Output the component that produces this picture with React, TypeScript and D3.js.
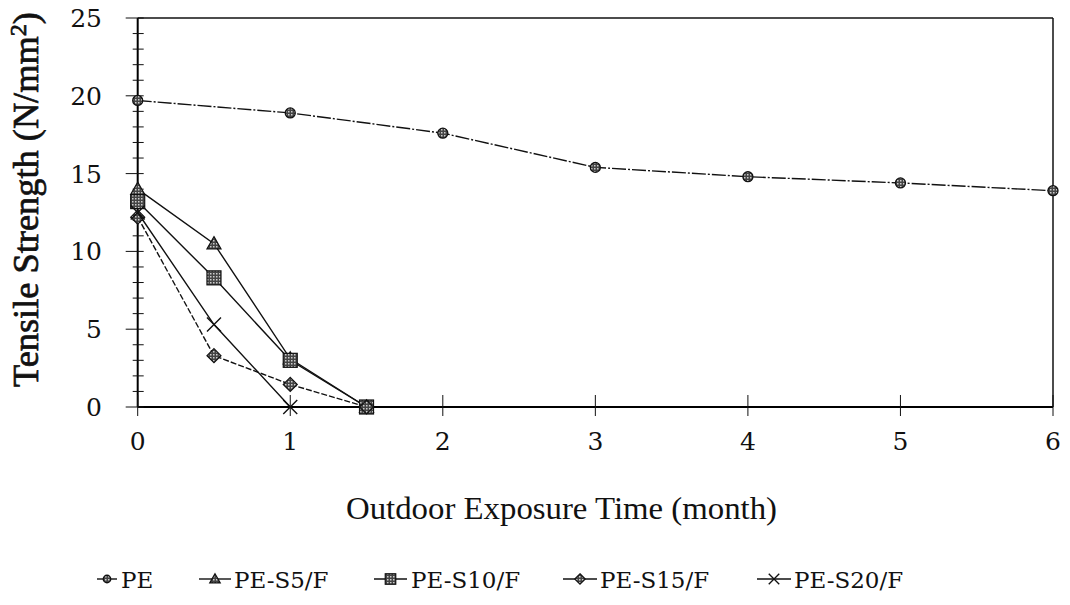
import React from "react";
import * as d3 from "d3";

const months = [0, 1, 2, 3, 4, 5, 6];
const peValues = [19.7, 18.9, 17.6, 15.4, 14.8, 14.4, 13.9];
const shortMonths = [0, 0.5, 1, 1.5];
const s5Values = [14.0, 10.5, 3.1, 0];
const s10Values = [13.2, 8.3, 3.0, 0];
const s15Values = [12.2, 3.3, 1.45, 0];
const s20Months = [0, 0.5, 1];
const s20Values = [12.5, 5.3, 0];
const xTicks = [0, 1, 2, 3, 4, 5, 6];
const yTicks = [0, 5, 10, 15, 20, 25];
const yMinorTicks = d3.range(0, 26, 1);

type Series = { name: string; xs: number[]; ys: number[]; marker: string; dash?: string };
const series: Series[] = [
  { name: "PE", xs: months, ys: peValues, marker: "circle", dash: "14,2,2,2" },
  { name: "PE-S5/F", xs: shortMonths, ys: s5Values, marker: "triangle" },
  { name: "PE-S10/F", xs: shortMonths, ys: s10Values, marker: "square" },
  { name: "PE-S15/F", xs: shortMonths, ys: s15Values, marker: "diamond", dash: "6,2" },
  { name: "PE-S20/F", xs: s20Months, ys: s20Values, marker: "cross" },
];

const W = 1070, H = 605;
const x0 = 137.7, x1 = 1053, yTop = 18, yBot = 407;
const font = "'DejaVu Serif', 'Liberation Serif', serif";
const titleFont = "'Liberation Serif', 'DejaVu Serif', serif";

function Marker({ type, cx, cy, k = 1 }: { type: string; cx: number; cy: number; k?: number }) {
  const fill = "url(#hatch)";
  if (type === "circle") return <circle cx={cx} cy={cy} r={5 * k} fill={fill} stroke="#111" strokeWidth={1.3} />;
  if (type === "triangle") {
    const s = 7 * k;
    return <path d={`M${cx},${cy - s} L${cx + s},${cy + s * 0.75} L${cx - s},${cy + s * 0.75} Z`} fill={fill} stroke="#111" strokeWidth={1.2} />;
  }
  if (type === "square") {
    const s = 7 * k;
    return <rect x={cx - s} y={cy - s} width={2 * s} height={2 * s} fill={fill} stroke="#111" strokeWidth={1.2} />;
  }
  if (type === "diamond") {
    const s = 7 * k;
    return <path d={`M${cx},${cy - s} L${cx + s},${cy} L${cx},${cy + s} L${cx - s},${cy} Z`} fill={fill} stroke="#111" strokeWidth={1.2} />;
  }
  const s = 7 * k;
  return <path d={`M${cx - s},${cy - s} L${cx + s},${cy + s} M${cx - s},${cy + s} L${cx + s},${cy - s}`} stroke="#111" strokeWidth={1.4} fill="none" />;
}

export default function App() {
  const x = d3.scaleLinear().domain([0, 6]).range([x0, x1]);
  const y = d3.scaleLinear().domain([0, 25]).range([yBot, yTop]);
  const line = d3.line<[number, number]>().x((d) => x(d[0])).y((d) => y(d[1]));

  const legendItems = [
    { lx: 97, tx: 121, len: 20 },
    { lx: 199, tx: 234, len: 32 },
    { lx: 374, tx: 411, len: 33 },
    { lx: 563, tx: 600, len: 34 },
    { lx: 757, tx: 794, len: 34 },
  ];
  const legendY = 579;

  return (
    <svg width={W} height={H} style={{ position: "absolute", left: 0, top: 0, background: "#fff" }}>
      <defs>
        <pattern id="hatch" width={3} height={3} patternUnits="userSpaceOnUse">
          <rect width={3} height={3} fill="#444" />
          <rect width={1.5} height={1.5} fill="#ccc" />
        </pattern>
      </defs>
      <rect width={W} height={H} fill="#fff" />
      {/* frame */}
      <line x1={x0} y1={yTop} x2={x1} y2={yTop} stroke="#111" strokeWidth={1.5} />
      <line x1={x1} y1={yTop} x2={x1} y2={yBot} stroke="#111" strokeWidth={1.5} />
      <line x1={x0} y1={yTop} x2={x0} y2={yBot} stroke="#000" strokeWidth={2} />
      <line x1={x0} y1={yBot} x2={x1} y2={yBot} stroke="#000" strokeWidth={2} />
      {/* y ticks */}
      {yMinorTicks.map((t) => (
        <line key={"ym" + t} x1={t % 5 === 0 ? x0 - 12 : x0 - 5} x2={x0 + 6} y1={y(t)} y2={y(t)} stroke="#111" strokeWidth={1} />
      ))}
      {yTicks.map((t) => (
        <text key={"yl" + t} x={102} y={y(t)} dy="0.36em" textAnchor="end" fontFamily={font} fontSize={25} fill="#111">
          {t}
        </text>
      ))}
      {/* x ticks */}
      {xTicks.map((t) => (
        <g key={"xt" + t}>
          <line x1={x(t)} x2={x(t)} y1={yBot - 12} y2={yBot + 9} stroke="#111" strokeWidth={1} />
          <text x={x(t)} y={450} textAnchor="middle" fontFamily={font} fontSize={25} fill="#111">
            {t}
          </text>
        </g>
      ))}
      {/* titles */}
      <text x={346} y={519} fontFamily={titleFont} fontSize={32.5} fill="#111" textLength={431} lengthAdjust="spacingAndGlyphs">
        Outdoor Exposure Time (month)
      </text>
      <text transform={`translate(38,387) rotate(-90)`} fontFamily={titleFont} fontSize={36} fill="#111" stroke="#111" strokeWidth={0.7} textLength={375} lengthAdjust="spacingAndGlyphs">
        Tensile Strength (N/mm
        <tspan dy={-12} fontSize={24}>2</tspan>
        <tspan dy={12}>)</tspan>
      </text>
      {/* series */}
      {series.map((s) => {
        const pts = s.xs.map((v, i) => [v, s.ys[i]] as [number, number]);
        return (
          <g key={s.name}>
            <path d={line(pts) || ""} fill="none" stroke="#111" strokeWidth={1.4} strokeDasharray={s.dash} />
            {pts.map((p, i) => (
              <Marker key={i} type={s.marker} cx={x(p[0])} cy={y(p[1])} />
            ))}
          </g>
        );
      })}
      {/* legend */}
      {series.map((s, i) => {
        const li = legendItems[i];
        return (
          <g key={"lg" + s.name}>
            <line x1={li.lx} x2={li.lx + li.len} y1={legendY} y2={legendY} stroke="#111" strokeWidth={1.4} />
            <Marker type={s.marker} cx={li.lx + li.len / 2} cy={legendY} k={0.75} />
            <text x={li.tx} y={legendY + 9} fontFamily={font} fontSize={23} fill="#111">
              {s.name}
            </text>
          </g>
        );
      })}
    </svg>
  );
}
